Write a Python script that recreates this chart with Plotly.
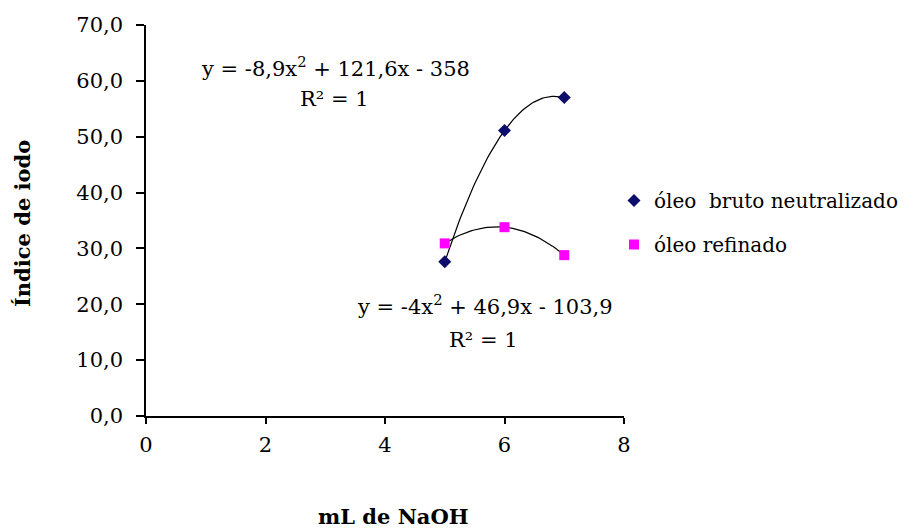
import numpy as np
import plotly.graph_objects as go

# Data
x_ml = [5, 6, 7]
bruto = [27.6, 51.1, 57.0]
refinado = [30.9, 33.8, 28.8]
x_ticks = [0, 2, 4, 6, 8]
y_ticks = [0, 10, 20, 30, 40, 50, 60, 70]

FONT = "DejaVu Serif, serif"
FS = 21

fig = go.Figure()

# polynomial (order 2) trendlines fitted from the data
xs = np.linspace(min(x_ml), max(x_ml), 60)
for ys in (bruto, refinado):
    c = np.polyfit(x_ml, ys, 2)
    fig.add_trace(go.Scatter(x=xs, y=np.polyval(c, xs), mode="lines",
                             line=dict(color="black", width=1.2),
                             showlegend=False, hoverinfo="skip"))

fig.add_trace(go.Scatter(x=x_ml, y=bruto, mode="markers", name="óleo\u00a0 bruto neutralizado",
                         legendgroup="a",
                         marker=dict(symbol="diamond", size=10, color="#0d0d6b")))
fig.add_trace(go.Scatter(x=x_ml, y=refinado, mode="markers", name="óleo refinado",
                         legendgroup="b",
                         marker=dict(symbol="square", size=10, color="#ff00ff")))

W, H = 907, 529
L, R, T, B = 146, 283, 25, 113
pw, ph = W - L - R, H - T - B

def px(xp):
    return (xp - L) / pw

def py(yp):
    return (H - B - yp) / ph

annots = [
    dict(text="y = -8,9x<sup>2</sup> + 121,6x - 358", x=px(335), y=py(67)),
    dict(text="R² = 1", x=px(334), y=py(99)),
    dict(text="y = -4x<sup>2</sup> + 46,9x - 103,9", x=px(485), y=py(305)),
    dict(text="R² = 1", x=px(483), y=py(340)),
    dict(text="<b>mL de NaOH</b>", x=px(393), y=py(516)),
    dict(text="<b>Índice de iodo</b>", x=px(22), y=py(224), textangle=-90),
]
for a in annots:
    fig.add_annotation(xref="paper", yref="paper", showarrow=False,
                       xanchor="center", yanchor="middle",
                       font=dict(family=FONT, size=FS, color="black"), **a)

fig.update_layout(
    width=W, height=H,
    margin=dict(l=L, r=R, t=T, b=B, autoexpand=False),
    paper_bgcolor="white", plot_bgcolor="white",
    separators=",.",
    font=dict(family=FONT, size=FS, color="black"),
    legend=dict(x=px(614), y=py(181), xanchor="left", yanchor="top",
                font=dict(family=FONT, size=FS - 1, color="black"),
                tracegroupgap=15, itemwidth=30, bgcolor="rgba(0,0,0,0)"),
    xaxis=dict(range=[0, 8], tickvals=x_ticks, showgrid=False, zeroline=False,
               showline=True, linecolor="black", linewidth=1.5,
               ticks="outside", ticklen=6, tickwidth=1.5, tickcolor="black",
               ticklabelstandoff=3,
               tickfont=dict(family=FONT, size=FS)),
    yaxis=dict(range=[0, 70], tickvals=y_ticks, tickformat=".1f", showgrid=False,
               zeroline=False, showline=True, linecolor="black", linewidth=1.5,
               ticks="outside", ticklen=8, tickwidth=1.5, tickcolor="black",
               ticklabelstandoff=9,
               tickfont=dict(family=FONT, size=FS)),
)

fig.write_html("out.html")
